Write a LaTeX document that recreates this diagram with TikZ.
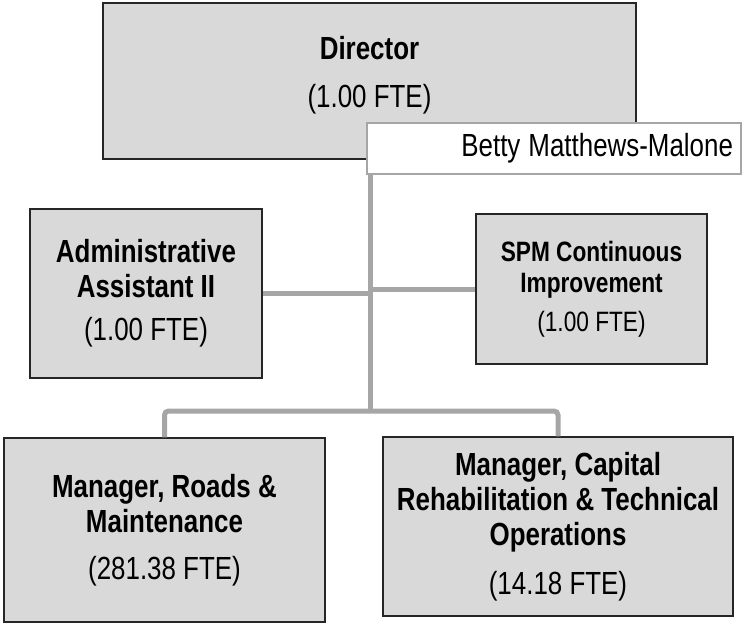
\documentclass[tikz,border=0pt]{standalone}
\usepackage{fontspec}
\setmainfont{Liberation Sans}[FakeStretch=0.81]
\usetikzlibrary{positioning}

\tikzset{
    box/.style={
        draw=black!85,
        fill=black!15,
        line width=1.4pt,
        inner sep=0pt,
        align=center,
        font=\fontsize{32}{35}\selectfont
    },
    link/.style={
        draw=black!35,
        line width=5pt
    }
}

\begin{document}
\begin{tikzpicture}[x=1pt,y=-1pt]

    \useasboundingbox (0,0) rectangle (742,624);

    % Vedeni
    \node[box, minimum width=533pt, minimum height=156pt]
        (director) at (369.5,81)
        {\textbf{Director}\\[13pt](1.00 FTE)\\[-16pt]};

    \node[
        draw=black!35,
        fill=white,
        line width=1.4pt,
        minimum height=51pt,
        inner xsep=8pt,
        inner ysep=0pt,
        text width=358pt,
        align=right,
        font=\fontsize{32}{35}\selectfont
    ] (name) at (554,148.5)
        {Betty\hspace{8pt}Matthews-Malone};

    % Stab
    \node[box, minimum width=232pt, minimum height=169pt]
        (admin) at (146,293.5)
        {\textbf{Administrative}\\\textbf{Assistant II}\\[8pt](1.00 FTE)};

    \node[
        box,
        minimum width=231pt,
        minimum height=150pt,
        font=\fontsize{28}{31}\selectfont
    ] (spm) at (591.5,289)
        {\textbf{SPM Continuous}\\\textbf{Improvement}\\[8pt](1.00 FTE)};

    % Manazeri
    \node[box, minimum width=321pt, minimum height=184pt]
        (roads) at (164.5,530)
        {\textbf{Manager, Roads \&}\\\textbf{Maintenance}\\[12pt](281.38 FTE)};

    \node[box, minimum width=350pt, minimum height=179pt]
        (capital) at (558,526.5)
        {\textbf{Manager, Capital}\\\textbf{Rehabilitation \& Technical}\\
         \textbf{Operations}\\[14pt](14.18 FTE)};

    % Spojnice
    \coordinate (bus) at (370,411);

    \draw[link] (bus |- name.south) -- (bus);
    \draw[link] (admin.east) -- (admin.east -| bus);
    \draw[link] (spm.west) -- (spm.west -| bus);
    \draw[link, rounded corners=4pt]
        (roads.north) -- (roads.north |- bus)
        -- (capital.north |- bus) -- (capital.north);

\end{tikzpicture}
\end{document}
